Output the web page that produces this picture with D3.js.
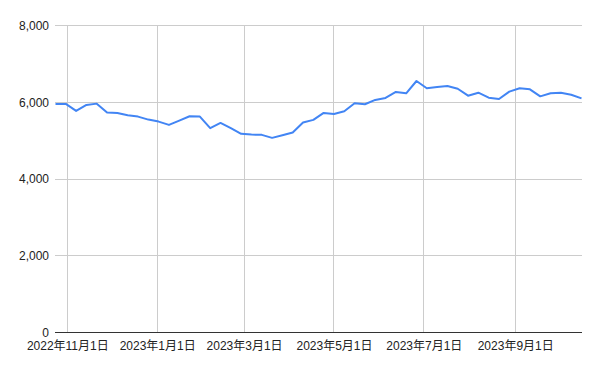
<!DOCTYPE html>
<html>
<head>
<meta charset="utf-8">
<script src="https://cdn.jsdelivr.net/npm/d3@7"></script>
<style>
  html, body { margin: 0; padding: 0; background: #fff; }
  svg { display: block; }
  text { font-family: "Liberation Sans", Arial, "Noto Sans CJK JP", sans-serif; font-size: 12px; fill: #222; }
</style>
</head>
<body>
<svg id="chart" width="600" height="371"></svg>
<script>
const dates = [
  "2022-10-24","2022-10-31","2022-11-07","2022-11-14","2022-11-21","2022-11-28",
  "2022-12-05","2022-12-12","2022-12-19","2022-12-26","2023-01-02","2023-01-09",
  "2023-01-16","2023-01-23","2023-01-30","2023-02-06","2023-02-13","2023-02-20",
  "2023-02-27","2023-03-06","2023-03-13","2023-03-20","2023-03-27","2023-04-03",
  "2023-04-10","2023-04-17","2023-04-24","2023-05-01","2023-05-08","2023-05-15",
  "2023-05-22","2023-05-29","2023-06-05","2023-06-12","2023-06-19","2023-06-26",
  "2023-07-03","2023-07-10","2023-07-17","2023-07-24","2023-07-31","2023-08-07",
  "2023-08-14","2023-08-21","2023-08-28","2023-09-04","2023-09-11","2023-09-18",
  "2023-09-25","2023-10-02","2023-10-09","2023-10-16"
];
const values = [
  5956, 5956, 5774, 5930, 5964, 5730, 5722, 5662, 5626, 5548, 5496, 5410,
  5522, 5636, 5626, 5325, 5462, 5325, 5177, 5158, 5150, 5072, 5142, 5210,
  5470, 5540, 5722, 5696, 5766, 5974, 5948, 6060, 6112, 6268, 6234, 6554,
  6364, 6397, 6424, 6353, 6171, 6249, 6119, 6086, 6276, 6364, 6336, 6154,
  6234, 6249, 6197, 6102
];
const xTickDates = ["2022-11-01","2023-01-01","2023-03-01","2023-05-01","2023-07-01","2023-09-01"];
const yTicks = [0, 2000, 4000, 6000, 8000];

const parse = d3.utcParse("%Y-%m-%d");
const data = dates.map((d, i) => ({ date: parse(d), value: values[i] }));
const xTicks = xTickDates.map(parse);

const svg = d3.select("#chart");
const mLeft = 55.5, mRight = 581.5, mTop = 25.5, mBottom = 332.5;
const fontFam = "'Liberation Sans', Arial, 'Noto Sans CJK JP', sans-serif";

const x = d3.scaleUtc().domain(d3.extent(data, d => d.date)).range([mLeft, mRight]);
const y = d3.scaleLinear().domain([0, 8000]).range([mBottom, mTop]);
const snap = v => Math.floor(v) + 0.5;

// horizontal gridlines
svg.append("g").selectAll("line").data(yTicks.filter(t => t !== 0)).join("line")
  .attr("x1", mLeft - 0.5).attr("x2", mRight + 0.5)
  .attr("y1", d => snap(y(d))).attr("y2", d => snap(y(d)))
  .attr("stroke", "#cccccc").attr("stroke-width", 1);

// vertical gridlines
svg.append("g").selectAll("line").data(xTicks).join("line")
  .attr("x1", d => snap(x(d))).attr("x2", d => snap(x(d)))
  .attr("y1", mTop - 0.5).attr("y2", mBottom)
  .attr("stroke", "#cccccc").attr("stroke-width", 1);

// y axis labels
const yAxis = d3.axisLeft(y).tickValues(yTicks).tickSize(0).tickPadding(0)
  .tickFormat(d3.format(","));
const yg = svg.append("g").attr("transform", `translate(${mLeft - 6.5},0)`).call(yAxis);
yg.select(".domain").remove();
yg.selectAll("text").attr("fill", "#222").style("font-size", "12px").style("font-family", fontFam);

// x axis labels
const xAxis = d3.axisBottom(x).tickValues(xTicks).tickSize(0).tickPadding(0)
  .tickFormat(d3.utcFormat("%Y年%-m月%-d日"));
const xg = svg.append("g").attr("transform", `translate(0,${mBottom + 8.5})`).call(xAxis);
xg.select(".domain").remove();
xg.selectAll("text").attr("fill", "#222").style("font-size", "12px").style("font-family", fontFam);

// baseline
svg.append("line")
  .attr("x1", mLeft - 0.5).attr("x2", mRight + 0.5)
  .attr("y1", snap(y(0))).attr("y2", snap(y(0)))
  .attr("stroke", "#333333").attr("stroke-width", 1);

// line
const line = d3.line().x(d => x(d.date)).y(d => y(d.value));
svg.append("path").datum(data)
  .attr("d", line)
  .attr("fill", "none")
  .attr("stroke", "#4285F4")
  .attr("stroke-width", 2)
  .attr("stroke-linejoin", "round");
</script>
</body>
</html>
